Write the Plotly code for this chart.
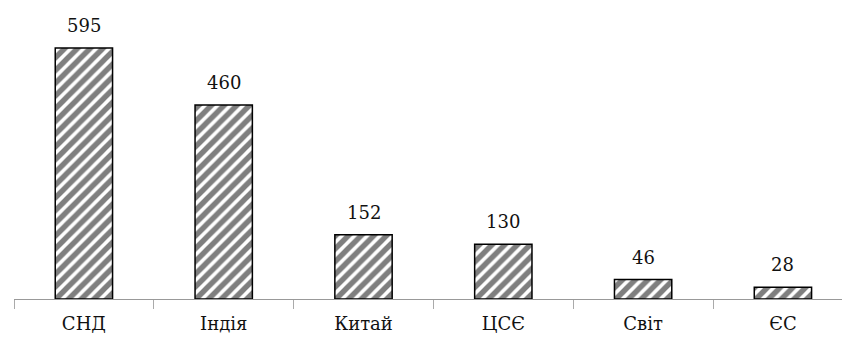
import plotly.graph_objects as go

categories = ["СНД", "Індія", "Китай", "ЦСЄ", "Світ", "ЄС"]
values = [595, 460, 152, 130, 46, 28]
value_labels = ["595", "460", "152", "130", "46", "28"]

FONT = "DejaVu Serif"

fig = go.Figure(
    go.Bar(
        x=categories,
        y=values,
        width=0.41,
        marker=dict(
            color="white",
            line=dict(color="#000000", width=1.5),
            pattern=dict(shape="/", fgcolor="#000000", bgcolor="white", size=9, solidity=0.6),
        ),
        hoverinfo="x+y",
    )
)

for c, v, t in zip(categories, values, value_labels):
    fig.add_annotation(
        x=c, y=v, text=t, showarrow=False,
        yanchor="bottom", yshift=10,
        font=dict(family=FONT, size=18, color="#111111"),
    )

fig.update_layout(
    width=850,
    height=352,
    margin=dict(l=6, r=0, t=2, b=61),
    plot_bgcolor="white",
    paper_bgcolor="white",
    showlegend=False,
    xaxis=dict(
        range=[-0.5, 5.537],
        showline=True,
        linecolor="#999999",
        linewidth=1.2,
        ticks="outside",
        tickson="boundaries",
        ticklen=9,
        tickcolor="#aaaaaa",
        tickwidth=1.2,
        ticklabelstandoff=8,
        tickfont=dict(family=FONT, size=18, color="#111111"),
        showgrid=False,
        zeroline=False,
    ),
    yaxis=dict(
        range=[0, 685],
        visible=False,
        showgrid=False,
        zeroline=False,
    ),
)

fig.write_html("out.html")
